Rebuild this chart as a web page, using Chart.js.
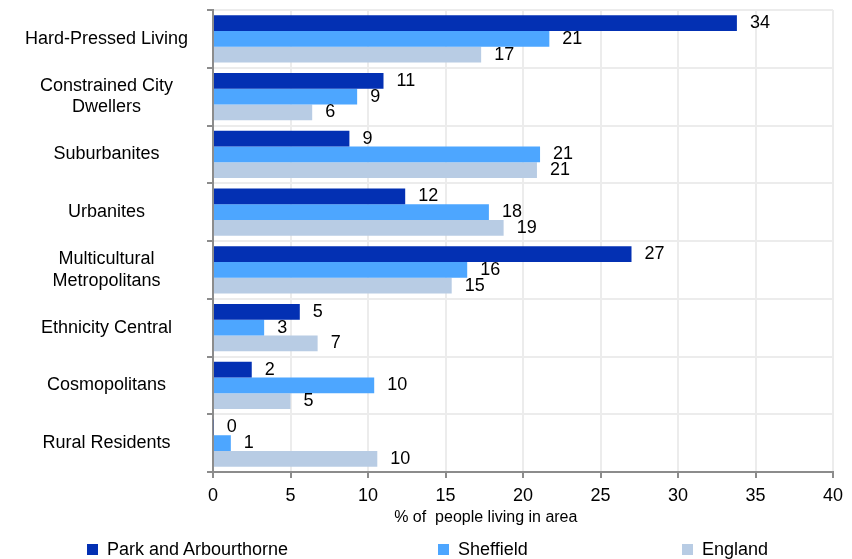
<!DOCTYPE html>
<html>
<head>
<meta charset="utf-8">
<script src="https://cdn.jsdelivr.net/npm/chart.js@4.4.0/dist/chart.umd.min.js"></script>
<style>
    html, body { margin: 0; padding: 0; background: #fff; }
    #wrap { position: relative; width: 852px; height: 559px; }
    #legend { position: absolute; left: 0; top: 539px; width: 852px; height: 20px; font: 18px "Liberation Sans", Arial, sans-serif; color: #000; }
    .item { position: absolute; top: 0; display: flex; align-items: center; white-space: nowrap; line-height: 20px; }
    .box { width: 11px; height: 11px; margin-right: 9px; }
</style>
</head>
<body>
<div id="wrap">
    <canvas id="myChart" width="852" height="559"></canvas>
    <div id="legend"></div>
</div>
<script>
var FONT = '"Liberation Sans", Arial, sans-serif';

var categories = [
    "Hard-Pressed Living",
    ["Constrained City", "Dwellers"],
    "Suburbanites",
    "Urbanites",
    ["Multicultural", "Metropolitans"],
    "Ethnicity Central",
    "Cosmopolitans",
    "Rural Residents"
];
var seriesNames = ["Park and Arbourthorne", "Sheffield", "England"];
var seriesColours = ["#0330b3", "#4da6ff", "#b8cce4"];

// bar lengths (% of people living in area)
var parkValues = [33.8, 11.0, 8.8, 12.4, 27.0, 5.6, 2.5, 0.05];
var sheffieldValues = [21.7, 9.3, 21.1, 17.8, 16.4, 3.3, 10.4, 1.15];
var englandValues = [17.3, 6.4, 20.9, 18.75, 15.4, 6.75, 5.0, 10.6];

// numbers printed next to the bars
var parkLabels = [34, 11, 9, 12, 27, 5, 2, 0];
var sheffieldLabels = [21, 9, 21, 18, 16, 3, 10, 1];
var englandLabels = [17, 6, 21, 19, 15, 7, 5, 10];

var xTitle = "% of  people living in area";

var allValues = [parkValues, sheffieldValues, englandValues];
var allLabels = [parkLabels, sheffieldLabels, englandLabels];

//Write the value next to the end of each bar
var valueLabels = {
    id: 'valueLabels',
    afterDatasetsDraw: function (chart) {
        var ctx = chart.ctx;
        ctx.save();
        ctx.font = '18px ' + FONT;
        ctx.fillStyle = '#000';
        ctx.textAlign = 'left';
        ctx.textBaseline = 'middle';
        chart.data.datasets.forEach(function (ds, i) {
            chart.getDatasetMeta(i).data.forEach(function (bar, j) {
                ctx.fillText(String(allLabels[i][j]), bar.x + 13, bar.y);
            });
        });
        ctx.restore();
    }
};

//Axis title sits a little left of the plot centre in the original
var axisTitle = {
    id: 'axisTitle',
    afterDraw: function (chart) {
        var ctx = chart.ctx;
        var area = chart.chartArea;
        ctx.save();
        ctx.font = '16px ' + FONT;
        ctx.fillStyle = '#000';
        ctx.textAlign = 'center';
        ctx.textBaseline = 'middle';
        ctx.fillText(xTitle, area.left + 0.44 * (area.right - area.left), area.bottom + 46);
        ctx.restore();
    }
};

var datasets = seriesNames.map(function (name, i) {
    return {
        label: name,
        data: allValues[i],
        backgroundColor: seriesColours[i],
        borderWidth: 0,
        categoryPercentage: 0.82,
        barPercentage: 1.0
    };
});

var ctx = document.getElementById("myChart").getContext("2d");
var chart = new Chart(ctx, {
    type: 'bar',
    data: { labels: categories, datasets: datasets },
    options: {
        indexAxis: 'y',
        responsive: false,
        animation: false,
        layout: { padding: { top: 10, right: 19, left: 0, bottom: 0 } },
        plugins: {
            legend: { display: false },
            tooltip: { enabled: false }
        },
        scales: {
            x: {
                min: 0,
                max: 40,
                ticks: { stepSize: 5, color: '#000', font: { family: FONT, size: 18 }, padding: 7 },
                grid: { color: '#ececec', lineWidth: 2, tickColor: '#8c8c8c', tickLength: 6 },
                border: { color: '#8c8c8c', width: 2 },
                afterFit: function (scale) { scale.height = 87; }
            },
            y: {
                ticks: { color: '#000', font: { family: FONT, size: 18 }, crossAlign: 'center', padding: 19 },
                grid: { color: '#ececec', lineWidth: 2, tickColor: '#8c8c8c', tickLength: 6 },
                border: { color: '#8c8c8c', width: 2 },
                afterFit: function (scale) {
                    scale.width = 213;
                    scale.paddingTop = 0;
                    scale.paddingBottom = 0;
                }
            }
        }
    },
    plugins: [valueLabels, axisTitle]
});

//Legend in html, spread along the bottom
var legendLefts = [87, 438, 682];
var legend = document.getElementById("legend");
seriesNames.forEach(function (name, i) {
    var item = document.createElement("div");
    item.className = "item";
    item.style.left = legendLefts[i] + "px";
    item.innerHTML = '<span class="box" style="background:' + seriesColours[i] + '"></span>' + name;
    legend.appendChild(item);
});
</script>
</body>
</html>
